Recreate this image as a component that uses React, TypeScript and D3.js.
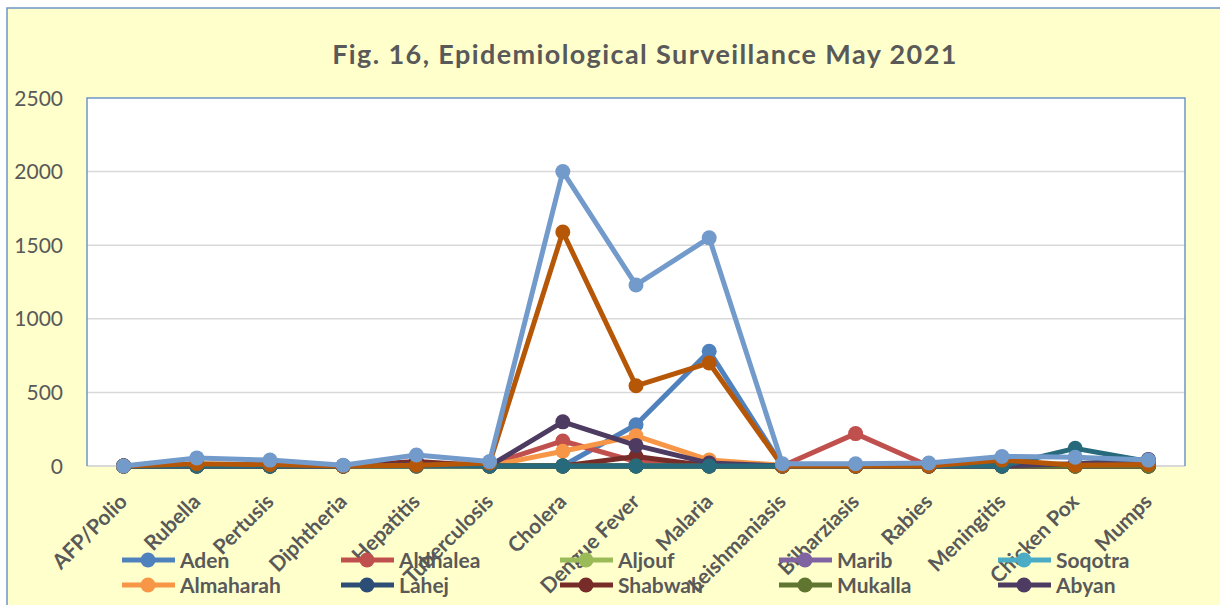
import React, { useEffect, useRef } from "react";
import * as d3 from "d3";

const categories = [
  "AFP/Polio", "Rubella", "Pertusis", "Diphtheria", "Hepatitis", "Tuberculosis",
  "Cholera", "Dengue Fever", "Malaria", "Leishmaniasis", "Bilharziasis", "Rabies",
  "Meningitis", "Chicken Pox", "Mumps",
];

const yTicks = [0, 500, 1000, 1500, 2000, 2500];

const aden = [0, 0, 0, 0, 0, 0, 0, 280, 780, 0, 0, 0, 0, 0, 0];
const aldhalea = [0, 5, 5, 0, 10, 10, 170, 30, 10, 0, 220, 0, 5, 5, 40];
const aljouf = [0, 0, 0, 0, 0, 0, 0, 0, 0, 0, 0, 0, 0, 0, 0];
const marib = [0, 0, 0, 0, 0, 0, 0, 0, 0, 0, 0, 0, 0, 0, 0];
const soqotra = [0, 0, 0, 0, 0, 0, 0, 0, 0, 0, 0, 0, 0, 0, 0];
const almaharah = [0, 0, 0, 0, 0, 0, 100, 205, 40, 5, 0, 0, 0, 0, 0];
const lahej = [0, 0, 0, 0, 20, 0, 0, 0, 0, 0, 0, 0, 0, 0, 0];
const shabwah = [0, 5, 0, 0, 30, 0, 0, 65, 0, 0, 0, 0, 0, 0, 0];
const mukalla = [0, 0, 0, 0, 0, 0, 0, 0, 0, 0, 0, 0, 0, 0, 0];
const abyan = [0, 0, 0, 0, 10, 0, 300, 140, 20, 0, 0, 0, 0, 15, 45];
// the legend entries of these three are cut off in the picture
const seyun = [0, 0, 0, 0, 0, 0, 0, 0, 0, 0, 0, 0, 0, 120, 30];
const taiz = [0, 15, 10, 0, 5, 20, 1590, 545, 700, 0, 0, 0, 40, 5, 10];
const total = [0, 55, 40, 5, 75, 30, 2000, 1230, 1550, 15, 15, 20, 65, 60, 40];

const series = [
  { name: "Aden", color: "#4F81BD", values: aden, legend: true },
  { name: "Aldhalea", color: "#C0504D", values: aldhalea, legend: true },
  { name: "Aljouf", color: "#9BBB59", values: aljouf, legend: true },
  { name: "Marib", color: "#8064A2", values: marib, legend: true },
  { name: "Soqotra", color: "#4BACC6", values: soqotra, legend: true },
  { name: "Almaharah", color: "#F79646", values: almaharah, legend: true },
  { name: "Lahej", color: "#2C4D75", values: lahej, legend: true },
  { name: "Shabwah", color: "#772C2A", values: shabwah, legend: true },
  { name: "Mukalla", color: "#5F7530", values: mukalla, legend: true },
  { name: "Abyan", color: "#4D3B62", values: abyan, legend: true },
  { name: "Seyun", color: "#276A7C", values: seyun, legend: false },
  { name: "Taiz", color: "#B65708", values: taiz, legend: false },
  { name: "Total", color: "#729ACA", values: total, legend: false },
];

const W = 1220, H = 605;
const FONT = "Lato, 'Open Sans', sans-serif";
const TXT = "#595959";

const App = () => {
  const ref = useRef<SVGSVGElement>(null);

  useEffect(() => {
    const svg = d3.select(ref.current);
    svg.selectAll("*").remove();

    const m = { left: 87, top: 98, right: 1185, bottom: 466 };

    // chart area
    svg.append("rect")
      .attr("x", 7).attr("y", 8)
      .attr("width", W + 20).attr("height", H + 20)
      .attr("fill", "#FFFFCC")
      .attr("stroke", "#6F95C8").attr("stroke-width", 1.5);

    svg.append("text")
      .attr("x", 645).attr("y", 64)
      .attr("text-anchor", "middle")
      .attr("font-family", FONT).attr("font-weight", "bold")
      .attr("font-size", 27).attr("letter-spacing", 1.4)
      .attr("fill", TXT)
      .text("Fig. 16, Epidemiological Surveillance May 2021");

    const x = d3.scaleBand<string>()
      .domain(categories)
      .range([m.left, m.right]);

    const y = d3.scaleLinear()
      .domain([0, 2500])
      .range([m.bottom, m.top]);

    // plot area
    svg.append("rect")
      .attr("x", m.left).attr("y", m.top)
      .attr("width", m.right - m.left).attr("height", m.bottom - m.top)
      .attr("fill", "#FFFFFF");

    svg.append("g")
      .selectAll("line")
      .data(yTicks.filter(t => t > 0 && t < 2500))
      .enter()
      .append("line")
      .attr("x1", m.left).attr("x2", m.right)
      .attr("y1", d => y(d)).attr("y2", d => y(d))
      .attr("stroke", "#D9D9D9").attr("stroke-width", 1.5);

    svg.append("line")
      .attr("x1", m.left).attr("x2", m.right)
      .attr("y1", m.bottom).attr("y2", m.bottom)
      .attr("stroke", "#D9D9D9").attr("stroke-width", 2);

    svg.append("path")
      .attr("d", `M${m.left},${m.bottom}V${m.top}H${m.right}V${m.bottom}`)
      .attr("fill", "none")
      .attr("stroke", "#6F95C8").attr("stroke-width", 1.5);

    // y labels
    svg.append("g")
      .selectAll("text")
      .data(yTicks)
      .enter()
      .append("text")
      .attr("x", 63).attr("y", d => y(d))
      .attr("dy", "0.36em")
      .attr("text-anchor", "end")
      .attr("font-family", FONT).attr("font-size", 21).attr("fill", TXT)
      .text(d => d);

    // x labels
    const cx = (c: string) => (x(c) ?? 0) + x.bandwidth() / 2;
    svg.append("g")
      .selectAll("text")
      .data(categories)
      .enter()
      .append("text")
      .attr("transform", d => `translate(${cx(d) + 5},${503}) rotate(-45)`)
      .attr("text-anchor", "end")
      .attr("font-family", FONT).attr("font-weight", "bold")
      .attr("font-size", 21).attr("fill", TXT)
      .text(d => d);

    // lines
    const line = d3.line<number>()
      .x((_, i) => cx(categories[i]))
      .y(d => y(d));

    series.forEach(s => {
      const g = svg.append("g");
      g.append("path")
        .attr("d", line(s.values))
        .attr("fill", "none")
        .attr("stroke", s.color)
        .attr("stroke-width", 5)
        .attr("stroke-linejoin", "round");
      g.selectAll("circle")
        .data(s.values)
        .enter()
        .append("circle")
        .attr("cx", (_, i) => cx(categories[i]))
        .attr("cy", d => y(d))
        .attr("r", 7.5)
        .attr("fill", s.color);
    });

    // legend (only the two rows that fit in the picture)
    const lg = svg.append("g");
    series.filter(s => s.legend).forEach((s, i) => {
      const col = i % 5, row = Math.floor(i / 5);
      const lx = 122 + col * 219, ly = 560 + row * 25;
      const item = lg.append("g");
      item.append("line")
        .attr("x1", lx).attr("x2", lx + 53)
        .attr("y1", ly).attr("y2", ly)
        .attr("stroke", s.color).attr("stroke-width", 5);
      item.append("circle")
        .attr("cx", lx + 26).attr("cy", ly).attr("r", 7.5)
        .attr("fill", s.color);
      item.append("text")
        .attr("x", lx + 58).attr("y", ly)
        .attr("dy", "0.36em")
        .attr("font-family", FONT).attr("font-weight", "bold")
        .attr("font-size", 21).attr("fill", TXT)
        .text(s.name);
    });
  }, []);

  return (
    <svg
      ref={ref}
      width={W}
      height={H}
      style={{ position: "absolute", left: 0, top: 0, background: "#FFFFFF" }}
    ></svg>
  );
};

export default App;
